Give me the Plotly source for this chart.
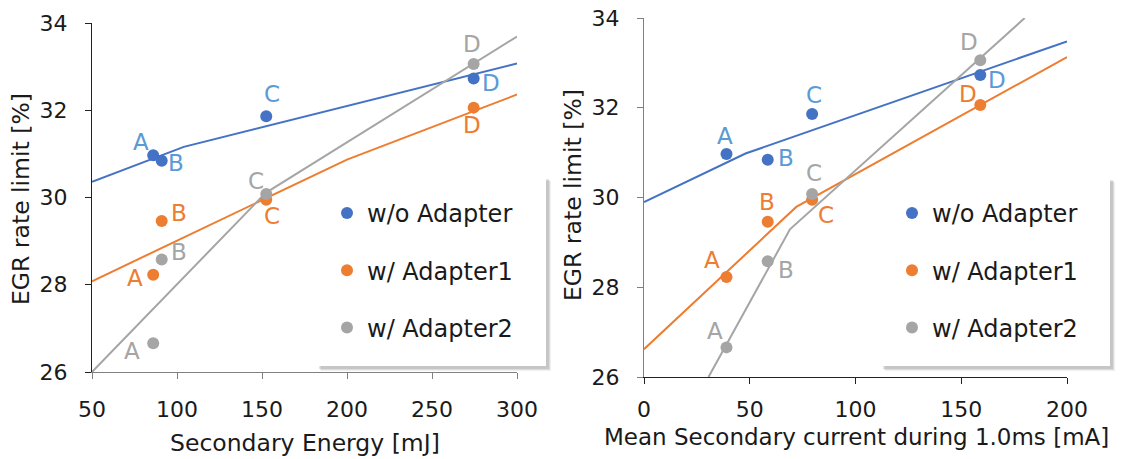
import plotly.graph_objects as go

# ---------------- data ----------------
point_labels = ["A", "B", "C", "D"]
series_names = ["w/o Adapter", "w/ Adapter1", "w/ Adapter2"]

energy_mJ = [86, 91, 152.5, 274.5]
current_mA = [39, 58.5, 79.5, 159]

egr_wo = [30.97, 30.84, 31.86, 32.73]
egr_a1 = [28.23, 29.46, 29.95, 32.06]
egr_a2 = [26.66, 28.58, 30.08, 33.06]

# hand-drawn trend lines (x, y)
fit_e_wo_x = [50, 104, 300]
fit_e_wo_y = [30.36, 31.16, 33.07]
fit_e_a1_x = [50, 200, 300]
fit_e_a1_y = [28.08, 30.87, 32.36]
fit_e_a2_x = [50, 152, 300]
fit_e_a2_y = [26.0, 30.1, 33.69]

fit_c_wo_x = [0, 48, 200]
fit_c_wo_y = [29.90, 30.98, 33.48]
fit_c_a1_x = [0, 72, 200]
fit_c_a1_y = [26.62, 29.79, 33.13]
fit_c_a2_x = [30.5, 69, 180]
fit_c_a2_y = [26.0, 29.29, 34.0]

x_ticks_energy = [50, 100, 150, 200, 250, 300]
x_ticks_current = [0, 50, 100, 150, 200]
y_ticks = [26, 28, 30, 32, 34]

# ---------------- style ----------------
W, H = 1121, 459
FONT = "DejaVu Sans"
TXT = "#1a1a1a"
marker_colors = ["#4472C4", "#ED7D31", "#A5A5A5"]
label_colors = ["#5B9BD5", "#ED7D31", "#A5A5A5"]


def px_x(p):
    return p / W


def px_y(p):
    return 1 - p / H


fig = go.Figure()

ys = [egr_wo, egr_a1, egr_a2]
fits_e = [(fit_e_wo_x, fit_e_wo_y), (fit_e_a1_x, fit_e_a1_y), (fit_e_a2_x, fit_e_a2_y)]
fits_c = [(fit_c_wo_x, fit_c_wo_y), (fit_c_a1_x, fit_c_a1_y), (fit_c_a2_x, fit_c_a2_y)]

# trend lines
for i in range(3):
    fig.add_trace(go.Scatter(x=fits_e[i][0], y=fits_e[i][1], mode="lines",
                             line=dict(color=marker_colors[i], width=2),
                             showlegend=False, hoverinfo="skip", xaxis="x", yaxis="y"))
    fig.add_trace(go.Scatter(x=fits_c[i][0], y=fits_c[i][1], mode="lines",
                             line=dict(color=marker_colors[i], width=2),
                             showlegend=False, hoverinfo="skip", xaxis="x2", yaxis="y2"))

# points
for i in range(3):
    fig.add_trace(go.Scatter(x=energy_mJ, y=ys[i], mode="markers", name=series_names[i],
                             marker=dict(color=marker_colors[i], size=12),
                             legend="legend", legendgroup="L%d" % i,
                             xaxis="x", yaxis="y"))
for i in range(3):
    fig.add_trace(go.Scatter(x=current_mA, y=ys[i], mode="markers", name=series_names[i],
                             marker=dict(color=marker_colors[i], size=12),
                             legend="legend2", legendgroup="R%d" % i,
                             xaxis="x2", yaxis="y2"))

# point label offsets in px (dx right, dy down)
off_left = [
    [(-12, -13), (14, 2), (6, -22), (17, 5)],
    [(-18, 3), (17, -8), (6, 16), (-2, 17)],
    [(-21, 8), (17, -7), (-10, -13), (-2, -20)],
]
off_right = [
    [(-1, -18), (18, -2), (2, -19), (17, 5)],
    [(-14, -17), (-1, -20), (14, 15), (-12, -11)],
    [(-11, -16), (18, 9), (2, -21), (-11, -18)],
]

annotations = []
for i in range(3):
    for j, lab in enumerate(point_labels):
        dx, dy = off_left[i][j]
        annotations.append(dict(x=energy_mJ[j], y=ys[i][j], xref="x", yref="y", text=lab,
                                showarrow=False, xshift=dx, yshift=-dy,
                                font=dict(family=FONT, size=23, color=label_colors[i])))
        dx, dy = off_right[i][j]
        annotations.append(dict(x=current_mA[j], y=ys[i][j], xref="x2", yref="y2", text=lab,
                                showarrow=False, xshift=dx, yshift=-dy,
                                font=dict(family=FONT, size=23, color=label_colors[i])))

# axis titles
title_font = dict(family=FONT, size=23.5, color=TXT)
annotations += [
    dict(x=px_x(304.5), y=px_y(443), xref="paper", yref="paper", text="Secondary Energy [mJ]",
         xanchor="center", yanchor="middle", showarrow=False, font=title_font),
    dict(x=px_x(856), y=px_y(437), xref="paper", yref="paper",
         text="Mean Secondary current during 1.0ms [mA]",
         xanchor="center", yanchor="middle", showarrow=False,
         font=dict(family=FONT, size=23, color=TXT)),
    dict(x=px_x(21), y=px_y(199), xref="paper", yref="paper", text="EGR rate limit [%]",
         xanchor="center", yanchor="middle", textangle=-90, showarrow=False, font=title_font),
    dict(x=px_x(573), y=px_y(195), xref="paper", yref="paper", text="EGR rate limit [%]",
         xanchor="center", yanchor="middle", textangle=-90, showarrow=False, font=title_font),
]

# legend boxes with soft shadow
shapes = []
for (x0, y0, x1, y1) in [(317, 177, 546, 366), (881, 178, 1110, 366)]:
    for k, a in [(5, 0.06), (4, 0.08), (3, 0.10)]:
        shapes.append(dict(type="rect", xref="paper", yref="paper",
                           x0=px_x(x0 + k - 1), x1=px_x(x1 + k), y0=px_y(y0 + k - 1), y1=px_y(y1 + k),
                           fillcolor="rgba(0,0,0,%.2f)" % a, line=dict(width=0), layer="above"))
    shapes.append(dict(type="rect", xref="paper", yref="paper",
                       x0=px_x(x0), x1=px_x(x1), y0=px_y(y0), y1=px_y(y1),
                       fillcolor="white", line=dict(width=0), layer="above"))

axis_common = dict(showgrid=False, zeroline=False, showline=True, ticks="outside",
                   ticklen=6, tickwidth=1, automargin=False,
                   tickfont=dict(family=FONT, size=22, color=TXT))

legend_common = dict(bgcolor="rgba(0,0,0,0)", borderwidth=0, tracegroupgap=23,
                     itemwidth=30, font=dict(family=FONT, size=24, color=TXT),
                     xanchor="left", yanchor="top")

fig.update_layout(
    width=W, height=H,
    margin=dict(l=0, r=0, t=0, b=0, autoexpand=False),
    paper_bgcolor="white", plot_bgcolor="white",
    showlegend=True,
    xaxis=dict(domain=[px_x(92), px_x(517)], range=[50, 300], tickvals=x_ticks_energy,
               linecolor="#808080", tickcolor="#808080", anchor="y",
               ticklabelstandoff=12, **axis_common),
    yaxis=dict(domain=[px_y(372), px_y(23)], range=[26, 34], tickvals=y_ticks,
               linecolor="#222222", tickcolor="#222222", anchor="x",
               ticklabelstandoff=13, **axis_common),
    xaxis2=dict(domain=[px_x(644), px_x(1067)], range=[0, 200], tickvals=x_ticks_current,
                linecolor="#222222", tickcolor="#222222", anchor="y2",
                ticklabelstandoff=7, **axis_common),
    yaxis2=dict(domain=[px_y(377), px_y(18)], range=[26, 34], tickvals=y_ticks,
                linecolor="#808080", tickcolor="#808080", anchor="x2",
                ticklabelstandoff=13, **axis_common),
    legend=dict(x=px_x(327), y=px_y(191), **legend_common),
    legend2=dict(x=px_x(892), y=px_y(191), **legend_common),
    annotations=annotations,
    shapes=shapes,
)

fig.write_html("out.html")
